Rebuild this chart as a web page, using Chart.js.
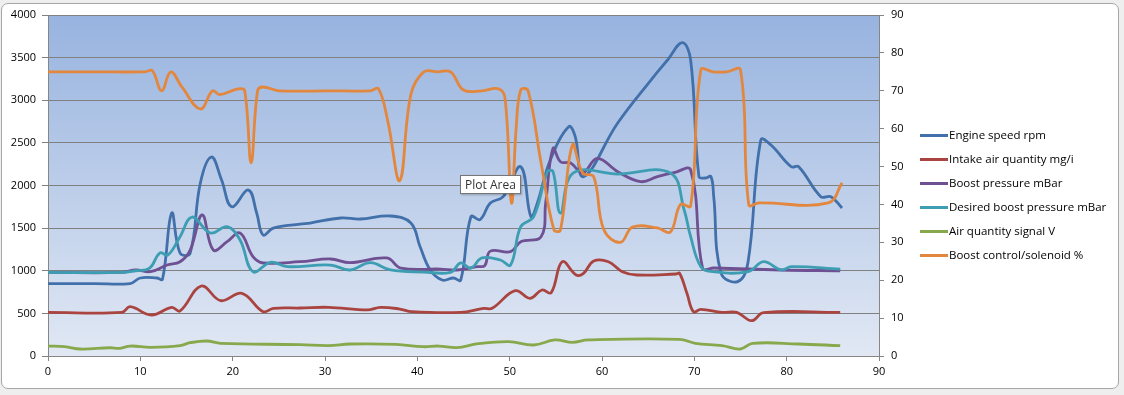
<!DOCTYPE html>
<html>
<head>
<meta charset="utf-8">
<script src="https://cdn.jsdelivr.net/npm/chart.js@4"></script>
<style>
  body { margin: 0; background: #eeeeee; }
  #wrap { position: relative; width: 1124px; height: 395px; overflow: hidden; }
  #box {
    position: absolute; left: 1px; top: 3px; width: 1116px; height: 384px;
    background: #fff; border: 1px solid #a6a6a6; border-radius: 7px;
  }
  #chart { position: absolute; left: 0; top: 0; }
  #tip {
    position: absolute; left: 460px; top: 175px; width: 59px; height: 17px;
    background: #fff; border: 1px solid #767676; box-shadow: 1px 1px 2px rgba(0,0,0,0.25);
    font: 12px "Open Sans", sans-serif; line-height: 17px; text-align: center; color: #333;
  }
</style>
</head>
<body>
<div id="wrap">
  <div id="box"></div>
  <canvas id="chart" width="1124" height="395"></canvas>
  <div id="tip">Plot Area</div>
</div>
<script>
// time axis (s) and values per series
const rpmT = [0, 5, 8.9, 10, 11.8, 12.4, 13.4, 14.3, 15.4, 16.5, 17.7, 18.8, 19.9, 21.7, 22.6, 23.3, 24.4, 27.3, 28.4, 31.7, 33.8, 37.1, 39.3, 40.3, 41.4, 42.7, 43.9, 44.7, 45.8, 46.8, 47.9, 49.3, 51.2, 52.3, 53, 54.4, 56.4, 57.1, 58, 61.7, 65.3, 67.1, 68.7, 69.6, 70.5, 71.2, 71.8, 72.1, 72.9, 74.7, 75.8, 77.2, 78.3, 80.5, 81.3, 83.7, 84.8, 86];
const rpm = [850, 850, 850, 915, 915, 900, 1677, 1208, 1208, 2030, 2334, 2065, 1751, 1947, 1677, 1419, 1501, 1548, 1560, 1619, 1607, 1642, 1560, 1282, 1009, 891, 915, 891, 1634, 1600, 1795, 1869, 2220, 1634, 1795, 2299, 2690, 2573, 2104, 2733, 3237, 3472, 3675, 3472, 2104, 2088, 2104, 1869, 973, 872, 1091, 2534, 2475, 2220, 2220, 1869, 1869, 1736];

const airT = [0, 8, 8.9, 11.2, 13.4, 14.3, 16.6, 18.7, 21, 23.3, 24.4, 27.3, 30.4, 34.6, 36, 38.1, 39.4, 44.7, 47.2, 48.1, 50.6, 52.2, 53.5, 54.5, 55.7, 57.2, 58, 59.1, 60.7, 62.2, 63.8, 68, 68.4, 69.2, 69.9, 70.7, 73, 74.6, 76.2, 77.5, 85.8];
const airMg = [512, 512, 578, 481, 571, 528, 821, 649, 735, 520, 559, 563, 571, 540, 571, 551, 520, 512, 559, 559, 766, 677, 774, 743, 1106, 950, 970, 1114, 1106, 989, 950, 962, 970, 735, 520, 547, 512, 512, 414, 508, 512];

const boostT = [0, 8, 9.5, 11.1, 12.9, 14.3, 15.4, 16.7, 17.9, 19.4, 20.8, 22.2, 23.3, 27.3, 30.6, 32.7, 36.7, 38.2, 42.5, 44.3, 46.5, 47.3, 47.9, 50.1, 51.2, 53.4, 53.9, 54.7, 55.5, 56.6, 57.9, 59.5, 61.7, 64.2, 66, 67.8, 69.6, 70.9, 72.1, 79.4, 85.8];
const boost = [980, 980, 1009, 989, 1067, 1106, 1243, 1654, 1243, 1341, 1443, 1165, 1091, 1106, 1138, 1095, 1150, 1032, 1020, 1009, 1048, 1060, 1230, 1224, 1341, 1400, 1795, 2436, 2279, 2264, 2147, 2319, 2162, 2045, 2104, 2150, 2182, 1029, 1032, 1009, 1000];

const desiredT = [0, 8, 9.5, 11, 12.1, 13, 14.3, 15.6, 17.6, 19.4, 20.8, 22.2, 24.1, 25.9, 30.6, 32.7, 34.9, 37.1, 40.7, 43.6, 44.7, 45.8, 47, 49, 50.1, 51.2, 52.6, 54.1, 54.7, 55.5, 56.9, 61.7, 67.4, 68.9, 69.6, 70.7, 72, 75.8, 77.5, 79.4, 80.5, 85.8];
const desired = [980, 980, 1000, 1030, 1208, 1185, 1400, 1630, 1443, 1517, 1361, 989, 1099, 1048, 1067, 1009, 1095, 1009, 985, 982, 1091, 1032, 1150, 1126, 1067, 1517, 1634, 2162, 2162, 1677, 2147, 2135, 2147, 1713, 1400, 1048, 989, 989, 1106, 1009, 1048, 1020];

const signalT = [0, 1.8, 3.5, 6.7, 7.8, 8.9, 11.1, 14.3, 15.4, 17.2, 18.7, 27.3, 30.4, 32.7, 37.7, 40.6, 42.3, 44.3, 46.4, 49.9, 52.6, 54.9, 56.8, 58.5, 68.4, 70.1, 73, 75, 76.3, 81.3, 85.8];
const signal = [117, 110, 82, 97, 90, 117, 102, 121, 156, 176, 149, 133, 121, 141, 137, 109, 117, 98, 141, 168, 129, 188, 160, 188, 196, 149, 121, 82, 149, 141, 121];

const solT = [0, 5, 10.5, 11.3, 12.3, 13.3, 14.5, 16.5, 17.8, 18.6, 20.6, 21.3, 22, 22.7, 23.3, 25, 30, 34.9, 35.8, 36.8, 38.1, 39.3, 40.7, 42.2, 43.6, 45, 47, 48.8, 49.5, 50.2, 50.7, 51.2, 52, 53.4, 54.8, 55.5, 56.8, 57.9, 59.1, 60.2, 62, 63.3, 66, 67.4, 68.5, 69.6, 70.7, 72, 73.5, 75, 75.9, 77, 84.5, 86];
const solenoid = [75, 75, 75, 75.3, 70, 75, 71, 65.2, 70, 69, 70.5, 70, 51, 70, 71, 70, 70, 70, 70.5, 62, 46.3, 69, 75, 75, 75, 70.2, 70, 70.5, 68, 40.4, 60, 70.2, 70, 51, 33.3, 33.3, 55.7, 48.3, 47.3, 33.3, 30, 34, 33.8, 32.7, 40, 39.6, 75.5, 75, 75, 75.5, 39.9, 40.4, 40.4, 45.7];

const labels = ['Engine speed rpm', 'Intake air quantity mg/i', 'Boost pressure mBar', 'Desired boost pressure mBar', 'Air quantity signal V', 'Boost control/solenoid %'];
const colors = ['#4170aa', '#aa4440', '#6e5093', '#3d9db3', '#88a84c', '#e2873d'];

const pts = (t, v) => t.map((x, i) => ({ x: x, y: v[i] }));
const series = [
  pts(rpmT, rpm), pts(airT, airMg), pts(boostT, boost),
  pts(desiredT, desired), pts(signalT, signal), pts(solT, solenoid)
];

Chart.defaults.font.family = '"Open Sans", sans-serif';
Chart.defaults.font.size = 11;
Chart.defaults.color = '#000';

// blue gradient behind the plot
const plotBg = {
  id: 'plotBg',
  beforeDraw(chart) {
    const { ctx, chartArea: a } = chart;
    const g = ctx.createLinearGradient(0, a.top, 0, a.bottom);
    g.addColorStop(0, '#97b3df');
    g.addColorStop(1, '#e1e8f4');
    ctx.save();
    ctx.fillStyle = g;
    ctx.fillRect(a.left, a.top, a.right - a.left, a.bottom - a.top);
    ctx.restore();
  }
};

// Excel style legend, right of the secondary axis
const sideLegend = {
  id: 'sideLegend',
  afterDraw(chart) {
    const { ctx, chartArea: a } = chart;
    const x0 = a.right + 41;
    const y0 = (a.top + a.bottom) / 2 - 50;
    ctx.save();
    ctx.font = '11.5px "Open Sans", sans-serif';
    ctx.textBaseline = 'middle';
    chart.data.datasets.forEach((ds, i) => {
      const y = y0 + i * 24;
      ctx.strokeStyle = ds.borderColor;
      ctx.lineWidth = 3;
      ctx.beginPath();
      ctx.moveTo(x0, y);
      ctx.lineTo(x0 + 28, y);
      ctx.stroke();
      ctx.fillStyle = '#000';
      ctx.fillText(ds.label, x0 + 29, y);
    });
    ctx.restore();
  }
};

const plain = v => String(v);

new Chart(document.getElementById('chart'), {
  type: 'line',
  data: {
    datasets: series.map((d, i) => ({
      label: labels[i],
      data: d,
      borderColor: colors[i],
      backgroundColor: colors[i],
      borderWidth: 2.8,
      pointRadius: 0,
      tension: 0.4,
      yAxisID: i === 5 ? 'y1' : 'y',
      order: 6 - i
    }))
  },
  options: {
    responsive: false,
    animation: false,
    layout: { padding: { left: 0, right: 0, top: 15, bottom: 0 } },
    plugins: { legend: { display: false }, tooltip: { enabled: false } },
    scales: {
      x: {
        type: 'linear', min: 0, max: 90,
        ticks: { stepSize: 10, padding: 4, maxRotation: 0, callback: plain },
        grid: { drawOnChartArea: false, tickLength: 5, color: '#868686' },
        border: { color: '#868686' },
        afterFit(s) { s.height = 39; }
      },
      y: {
        position: 'left', min: 0, max: 4000,
        ticks: { stepSize: 500, padding: 6, callback: plain },
        grid: { color: '#808080', tickLength: 6 },
        border: { color: '#868686' },
        afterFit(s) { s.width = 48; }
      },
      y1: {
        position: 'right', min: 0, max: 90,
        ticks: { stepSize: 10, padding: 7, callback: plain },
        grid: { drawOnChartArea: false, tickLength: 5, color: '#868686' },
        border: { color: '#868686' },
        afterFit(s) { s.width = 245; }
      }
    }
  },
  plugins: [plotBg, sideLegend]
});
</script>
</body>
</html>
